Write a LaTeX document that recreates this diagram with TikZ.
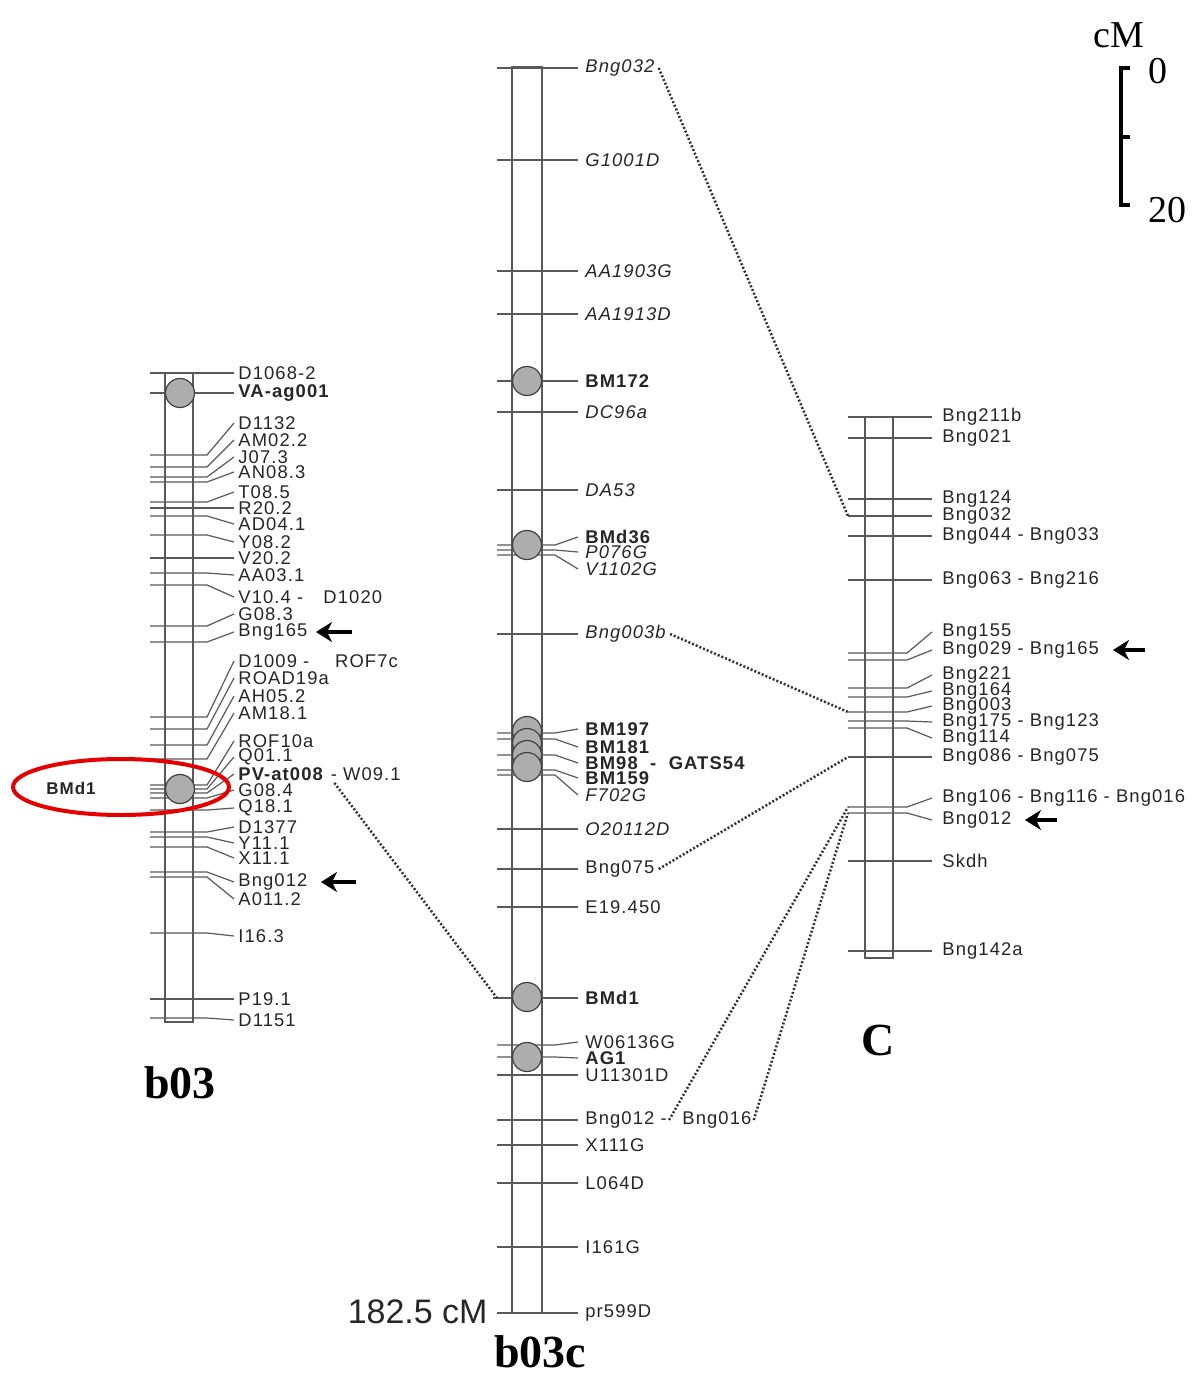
\documentclass[tikz,border=0pt]{standalone}
\usepackage{fontspec}
\setmainfont{Liberation Sans}[LetterSpace=6]
\newfontfamily\plainsans{Liberation Sans}
\newfontfamily\titlefont{Liberation Serif}
\usetikzlibrary{arrows.meta,shapes.geometric}
\tikzset{
  chrom/.style={draw=black!65,line width=0.7pt},
  tickln/.style={draw=black!65,line width=0.6pt},
  lab/.style={anchor=west,inner sep=0pt,font=\fontsize{9.2}{10}\selectfont,text=black!85},
  dotm/.style={circle,draw=black!75,fill=black!32,line width=0.6pt,minimum size=14.5pt,inner sep=0pt},
  conn/.style={draw=black!80,line width=1.25pt,dash pattern=on 1pt off 1pt},
  pointer/.style={-{Stealth[length=8pt,width=10pt,inset=2.5pt]},line width=1.6pt},
  title/.style={font=\titlefont\bfseries\fontsize{23}{23}\selectfont},
  scaletxt/.style={font=\titlefont\fontsize{19}{19}\selectfont,inner sep=0pt}
}
\newcommand\mkA[4]{\draw[tickln] (150,#2) -- (207,#2) -- (234,#3);
  \node[lab] (#1) at (238,#3) {#4};}
\newcommand\mkB[4]{\draw[tickln] (497,#2) -- (555,#2) -- (578,#3);
  \node[lab] (#1) at (585,#3) {#4};
  \coordinate (#1-t) at (497,#2);}
\newcommand\mkC[4]{\draw[tickln] (848,#2) -- (907,#2) -- (932,#3);
  \node[lab] (#1) at (942,#3) {#4};
  \coordinate (#1-t) at (848,#2);}
\begin{document}
\begin{tikzpicture}[x=0.5pt,y=-0.5pt]
\useasboundingbox (0,0) rectangle (1193,1376);
\fill[white] (0,0) rectangle (1193,1376);

% ---------------- chromosome b03 ----------------
\draw[chrom] (165,373) rectangle (193,1022);
\mkA{A-D1068}{373}{373}{D1068-2}
\mkA{A-VA}{393}{393}{\textbf{VA-ag001}}
\mkA{A-D1132}{455}{423}{D1132}
\mkA{A-AM022}{467}{440}{AM02.2}
\mkA{A-J073}{477}{457}{J07.3}
\mkA{A-AN083}{482}{472}{AN08.3}
\mkA{A-T085}{502}{492}{T08.5}
\mkA{A-R202}{508}{508}{R20.2}
\mkA{A-AD041}{516}{524}{AD04.1}
\mkA{A-Y082}{535}{542}{Y08.2}
\mkA{A-V202}{558}{558}{V20.2}
\mkA{A-AA031}{573}{575}{AA03.1}
\mkA{A-V104}{585}{597}{V10.4 -\hspace{1.1em}D1020}
\mkA{A-G083}{626}{614}{G08.3}
\mkA{A-Bng165}{642}{632}{Bng165}
\mkA{A-D1009}{717}{661}{D1009 -\hspace{1.4em}ROF7c}
\mkA{A-ROAD}{729}{678}{ROAD19a}
\mkA{A-AH052}{745}{696}{AH05.2}
\mkA{A-AM181}{759}{713}{AM18.1}
\mkA{A-ROF10a}{785}{741}{ROF10a}
\mkA{A-Q011}{789}{757}{Q01.1}
\mkA{A-PV}{793}{774}{\textbf{PV-at008}}
\node[lab] (A-W091) at ([xshift=3pt]A-PV.east) {- W09.1};
\mkA{A-G084}{798}{790}{G08.4}
\mkA{A-Q181}{810}{808}{Q18.1}
\mkA{A-D1377}{832}{827}{D1377}
\mkA{A-Y111}{837}{843}{Y11.1}
\mkA{A-X111}{847}{858}{X11.1}
\mkA{A-Bng012}{872}{882}{Bng012}
\mkA{A-A0112}{877}{899}{A011.2}
\mkA{A-I163}{933}{936}{I16.3}
\mkA{A-P191}{999}{999}{P19.1}
\mkA{A-D1151}{1018}{1020}{D1151}
\node[dotm] (cA1) at (180,393) {};
\node[dotm] (cA2) at (180,789) {};
\node[draw=red!90!black,line width=2pt,ellipse,minimum width=108pt,minimum height=28pt] (ring) at (121,787) {};
\node[font=\bfseries\fontsize{8.5}{9}\selectfont,text=black!85] (ringlab) at (71,788) {BMd1};
\node[title] (tA) at (180,1083) {b03};

% ---------------- chromosome b03c ----------------
\draw[chrom] (512,67) rectangle (542,1313);
\mkB{B-Bng032}{68}{68}{\itshape Bng032}
\mkB{B-G1001D}{160}{160}{\itshape G1001D}
\mkB{B-AA1903G}{271}{271}{\itshape AA1903G}
\mkB{B-AA1913D}{314}{314}{\itshape AA1913D}
\mkB{B-BM172}{381}{381}{\textbf{BM172}}
\mkB{B-DC96a}{412}{412}{\itshape DC96a}
\mkB{B-DA53}{490}{490}{\itshape DA53}
\mkB{B-BMd36}{545}{537}{\textbf{BMd36}}
\mkB{B-P076G}{550}{552}{\itshape P076G}
\mkB{B-V1102G}{555}{569}{\itshape V1102G}
\mkB{B-Bng003b}{634}{634}{\itshape Bng003b}
\mkB{B-BM197}{733}{729}{\textbf{BM197}}
\mkB{B-BM181}{739}{747}{\textbf{BM181}}
\mkB{B-BM98}{755}{763}{\textbf{BM98\ \ -\ \ GATS54}}
\mkB{B-BM159}{770}{778}{\textbf{BM159}}
\mkB{B-F702G}{775}{795}{\itshape F702G}
\mkB{B-O20112D}{829}{829}{\itshape O20112D}
\mkB{B-Bng075}{869}{869}{Bng075}
\mkB{B-E19450}{907}{907}{E19.450}
\draw[tickln,line width=1pt] (493,998) -- (577,998);
\mkB{B-BMd1}{998}{998}{\textbf{BMd1}}
\mkB{B-W06136G}{1045}{1042}{W06136G}
\mkB{B-AG1}{1057}{1058}{\textbf{AG1}}
\mkB{B-U11301D}{1075}{1075}{U11301D}
\mkB{B-Bng012}{1120}{1120}{Bng012 -}
\node[lab] (B-Bng016) at (682,1120) {Bng016};
\mkB{B-X111G}{1145}{1145}{X111G}
\mkB{B-L064D}{1183}{1183}{L064D}
\mkB{B-I161G}{1247}{1247}{I161G}
\mkB{B-pr599D}{1313}{1313}{pr599D}
\node[dotm] (cB1) at (527,381) {};
\node[dotm] (cB2) at (527,545) {};
\node[dotm] (cB3) at (527,731) {};
\node[dotm] (cB4) at (527,743) {};
\node[dotm] (cB5) at (527,755) {};
\node[dotm] (cB6) at (527,767) {};
\node[dotm] (cB7) at (527,997) {};
\node[dotm] (cB8) at (527,1057) {};
\node[anchor=east,inner sep=0pt,font=\plainsans\fontsize{17}{17}\selectfont,text=black!85] (len) at (488,1312) {182.5 cM};
\node[title] (tB) at (540,1352) {b03c};

% ---------------- chromosome C ----------------
\draw[chrom] (865,417) rectangle (893,958);
\mkC{C-Bng211b}{417}{417}{Bng211b}
\mkC{C-Bng021}{438}{438}{Bng021}
\mkC{C-Bng124}{499}{499}{Bng124}
\draw[tickln,line width=1.1pt] (848,516) -- (932,516);
\mkC{C-Bng032}{516}{516}{Bng032}
\mkC{C-Bng044}{536}{536}{Bng044 - Bng033}
\mkC{C-Bng063}{580}{580}{Bng063 - Bng216}
\mkC{C-Bng155}{653}{632}{Bng155}
\mkC{C-Bng029}{660}{650}{Bng029 - Bng165}
\mkC{C-Bng221}{688}{675}{Bng221}
\mkC{C-Bng164}{697}{691}{Bng164}
\mkC{C-Bng003}{712}{706}{Bng003}
\mkC{C-Bng175}{721}{722}{Bng175 - Bng123}
\mkC{C-Bng114}{728}{738}{Bng114}
\mkC{C-Bng086}{757}{757}{Bng086 - Bng075}
\mkC{C-Bng106}{807}{798}{Bng106 - Bng116 - Bng016}
\mkC{C-Bng012}{813}{820}{Bng012}
\mkC{C-Skdh}{861}{861}{Skdh}
\mkC{C-Bng142a}{951}{951}{Bng142a}
\node[title] (tC) at (878,1040) {C};

% ---------------- connectors ----------------
\draw[conn] ([xshift=2pt]B-Bng032.east) -- (C-Bng032-t);
\draw[conn] ([xshift=2pt]B-Bng003b.east) -- (C-Bng003-t);
\draw[conn] ([xshift=2pt]B-Bng075.east) -- (C-Bng086-t);
\draw[conn] ([xshift=5pt,yshift=-1pt]A-PV.south east) -- (B-BMd1-t);
\draw[conn] ([xshift=1pt]B-Bng012.east) -- (C-Bng106-t);
\draw[conn] ([xshift=1pt]B-Bng016.east) -- (C-Bng012-t);

% ---------------- arrows ----------------
\coordinate (pa1) at (352,632); \coordinate (pa1e) at (316,632);
\coordinate (pa2) at (356,882); \coordinate (pa2e) at (321,882);
\coordinate (pc1) at (1145,650); \coordinate (pc1e) at (1113,650);
\coordinate (pc2) at (1057,820); \coordinate (pc2e) at (1025,820);
\draw[pointer] (pa1) -- (pa1e);
\draw[pointer] (pa2) -- (pa2e);
\draw[pointer] (pc1) -- (pc1e);
\draw[pointer] (pc2) -- (pc2e);

% ---------------- scale ----------------
\draw[line width=2pt,line cap=butt] (1130,68) -- (1121,68) -- (1121,205) -- (1130,205);
\draw[line width=2pt] (1121,137) -- (1130,137);
\node[scaletxt] (scM) at (1119,35) {cM};
\node[scaletxt] (s0) at (1158,71) {0};
\node[scaletxt] (s20) at (1167,210) {20};
\end{tikzpicture}
\end{document}
